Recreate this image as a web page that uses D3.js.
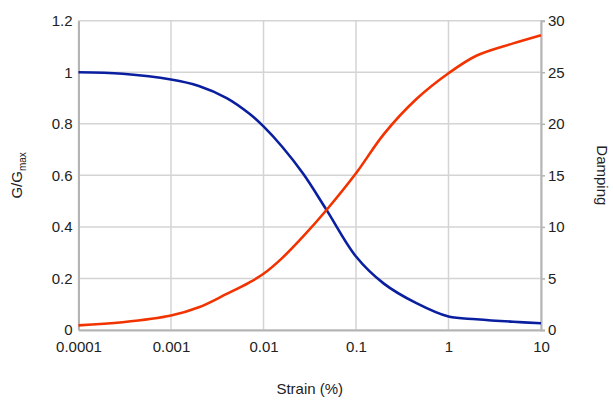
<!DOCTYPE html>
<html>
<head>
<meta charset="utf-8">
<script src="https://cdn.jsdelivr.net/npm/d3@7/dist/d3.min.js"></script>
<style>
  html, body { margin: 0; padding: 0; background: #fff; }
  svg { display: block; font-family: "Liberation Sans", Arial, sans-serif; }
</style>
</head>
<body>
<svg id="chart" width="613" height="401"></svg>
<script>
// ---- data ----
const strain  = [0.0001, 0.0003, 0.001, 0.002, 0.004, 0.007, 0.01, 0.016, 0.027, 0.048, 0.1, 0.2, 0.45, 1, 2, 5, 10];
const gRatio  = [1.0, 0.994, 0.972, 0.947, 0.90, 0.84, 0.79, 0.71, 0.605, 0.466, 0.285, 0.18, 0.104, 0.052, 0.042, 0.032, 0.026];
const damping = [0.45, 0.75, 1.4, 2.2, 3.5, 4.6, 5.45, 7.0, 9.1, 11.64, 15.2, 19.0, 22.4, 24.9, 26.6, 27.8, 28.6];
const xTicks = [0.0001, 0.001, 0.01, 0.1, 1, 10];
const xTickLabels = ["0.0001", "0.001", "0.01", "0.1", "1", "10"];
const yLeftTicks = [0, 0.2, 0.4, 0.6, 0.8, 1, 1.2];
const yRightTicks = [0, 5, 10, 15, 20, 25, 30];

// ---- layout ----
const svg = d3.select("#chart");
const L = 78.5, R = 541, T = 20.7, B = 330;

const x = d3.scaleLog().domain([0.0001, 10]).range([L, R]);
const yL = d3.scaleLinear().domain([0, 1.2]).range([B, T]);
const yR = d3.scaleLinear().domain([0, 30]).range([B, T]);

const gridColor = "#d4d4d4";
const axisColor = "#b4b4b4";
const textColor = "#222";

// gridlines
svg.append("g").selectAll("line.h").data(yLeftTicks).join("line")
  .attr("x1", L).attr("x2", R)
  .attr("y1", d => yL(d)).attr("y2", d => yL(d))
  .attr("stroke", gridColor).attr("stroke-width", 1.5);
svg.append("g").selectAll("line.v").data(xTicks).join("line")
  .attr("x1", d => x(d)).attr("x2", d => x(d))
  .attr("y1", T).attr("y2", B)
  .attr("stroke", gridColor).attr("stroke-width", 1.5);

// axes
const axL = d3.axisLeft(yL).tickValues(yLeftTicks).tickSize(0).tickPadding(6)
  .tickFormat(d => d3.format("")(+d.toFixed(1)));
const gL = svg.append("g").attr("transform", `translate(${L},0)`).call(axL);
const axR = d3.axisRight(yR).tickValues(yRightTicks).tickSize(4).tickPadding(3);
const gR = svg.append("g").attr("transform", `translate(${R},0)`).call(axR);
const axB = d3.axisBottom(x).tickValues(xTicks).tickSize(0).tickPadding(11)
  .tickFormat((d, i) => xTickLabels[i]);
const gB = svg.append("g").attr("transform", `translate(0,${B})`).call(axB);

[gL, gR, gB].forEach(g => {
  g.select(".domain").attr("stroke", axisColor).attr("stroke-width", 2);
  g.selectAll(".tick line").attr("stroke", axisColor).attr("stroke-width", 1.5);
  g.selectAll("text").attr("fill", textColor).attr("font-size", 15)
    .attr("font-family", "'Liberation Sans', Arial, sans-serif");
});

// curves
const curve = d3.curveCatmullRom.alpha(0.5);
const lineG = d3.line().x((d, i) => x(strain[i])).y(d => yL(d)).curve(curve);
const lineD = d3.line().x((d, i) => x(strain[i])).y(d => yR(d)).curve(curve);

svg.append("path").datum(gRatio).attr("d", lineG)
  .attr("fill", "none").attr("stroke", "#0a1fa0").attr("stroke-width", 2.6);
svg.append("path").datum(damping).attr("d", lineD)
  .attr("fill", "none").attr("stroke", "#f23300").attr("stroke-width", 2.6);

// axis titles
const lt = svg.append("text")
  .attr("transform", `translate(22,${(T + B) / 2}) rotate(-90)`)
  .attr("text-anchor", "middle").attr("font-size", 15).attr("fill", textColor);
lt.append("tspan").text("G/G");
lt.append("tspan").attr("font-size", 10).attr("dy", 4).text("max");

svg.append("text")
  .attr("transform", `translate(597,${(T + B) / 2}) rotate(90)`)
  .attr("text-anchor", "middle").attr("font-size", 15).attr("fill", textColor)
  .text("Damping");

svg.append("text")
  .attr("x", (L + R) / 2).attr("y", 394)
  .attr("text-anchor", "middle").attr("font-size", 15).attr("fill", textColor)
  .text("Strain (%)");
</script>
</body>
</html>
